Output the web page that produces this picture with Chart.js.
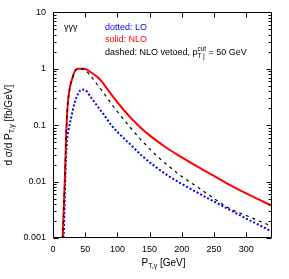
<!DOCTYPE html>
<html>
<head>
<meta charset="utf-8">
<script src="https://cdn.jsdelivr.net/npm/chart.js@4/dist/chart.umd.min.js"></script>
<style>
  body { margin: 0; background: #fff; }
  #wrap { width: 289px; height: 279px; position: relative; }
</style>
</head>
<body>
<div id="wrap"><canvas id="chart"></canvas></div>
<script>
// Datos (P_T,γ en GeV, dσ/dP_T en fb/GeV)
const loX = [16.5, 18, 20, 22, 24, 27.5, 34, 40, 45, 50, 60, 70, 80, 90, 100, 120, 140, 160, 180, 200, 225, 250, 275, 300, 320, 340];
const loY = [0.001, 0.004, 0.025, 0.055, 0.08, 0.125, 0.26, 0.38, 0.43, 0.42, 0.30, 0.21, 0.148, 0.102, 0.076, 0.0457, 0.0275, 0.018, 0.01245, 0.0091, 0.0063, 0.00442, 0.00313, 0.00221, 0.0017, 0.00129];

const nloX = [15, 18.7, 20.2, 22.3, 31, 39, 48, 60, 73, 85, 97, 110, 120, 135, 151, 175, 200, 225, 250, 275, 300, 320, 340];
const nloY = [0.001, 0.014, 0.055, 0.19, 0.74, 1.0, 1.0, 0.85, 0.645, 0.427, 0.282, 0.186, 0.138, 0.0933, 0.0646, 0.0407, 0.0269, 0.0182, 0.0126, 0.0087, 0.00617, 0.00479, 0.00372];

const vetoX = [15, 18.7, 20.2, 22.3, 31, 39, 45, 50, 60, 70, 80, 90, 100, 120, 140, 160, 180, 200, 225, 250, 275, 300, 320, 340];
const vetoY = [0.001, 0.014, 0.055, 0.19, 0.74, 1.0, 0.99, 0.95, 0.71, 0.50, 0.355, 0.245, 0.174, 0.091, 0.050, 0.0295, 0.0186, 0.0123, 0.0079, 0.005, 0.0033, 0.00251, 0.0020, 0.00162];

const xTicks = [0, 50, 100, 150, 200, 250, 300];
const yTicks = [0.001, 0.01, 0.1, 1, 10];
const yTickLabels = ['0.001', '0.01', '0.1', '1', '10'];

const FONT = '"Liberation Sans", Arial, sans-serif';

function pts(xs, ys) {
    return xs.map((x, i) => ({ x: x, y: ys[i] }));
}

// Ancho de un texto con subíndices / superíndices
function richWidth(ctx, parts, size) {
    let w = 0;
    parts.forEach(p => {
        if (p.k === 'n') {
            ctx.font = size + 'px ' + FONT;
            w += ctx.measureText(p.t).width;
        } else if (p.k === 'sub' || p.k === 'sup') {
            ctx.font = (size * 0.7) + 'px ' + FONT;
            w += ctx.measureText(p.t).width;
        } else if (p.k === 'both') {
            ctx.font = (size * 0.7) + 'px ' + FONT;
            w += Math.max(ctx.measureText(p.sup).width, ctx.measureText(p.sub).width);
        }
    });
    return w;
}

// Dibuja texto con subíndices / superíndices
function richText(ctx, x, y, parts, size, color) {
    ctx.fillStyle = color;
    ctx.textBaseline = 'middle';
    ctx.textAlign = 'left';
    parts.forEach(p => {
        if (p.k === 'n') {
            ctx.font = size + 'px ' + FONT;
            ctx.fillText(p.t, x, y);
            x += ctx.measureText(p.t).width;
        } else if (p.k === 'sub') {
            ctx.font = (size * 0.7) + 'px ' + FONT;
            ctx.fillText(p.t, x, y + size * 0.35);
            x += ctx.measureText(p.t).width;
        } else if (p.k === 'sup') {
            ctx.font = (size * 0.7) + 'px ' + FONT;
            ctx.fillText(p.t, x, y - size * 0.4);
            x += ctx.measureText(p.t).width;
        } else if (p.k === 'both') {
            ctx.font = (size * 0.7) + 'px ' + FONT;
            ctx.fillText(p.sup, x, y - size * 0.4);
            ctx.fillText(p.sub, x, y + size * 0.35);
            x += Math.max(ctx.measureText(p.sup).width, ctx.measureText(p.sub).width);
        }
    });
}

// Marco y marcas hacia adentro (estilo gnuplot)
const framePlugin = {
    id: 'frame',
    afterDatasetsDraw(chart) {
        const ctx = chart.ctx;
        const a = chart.chartArea;
        const sx = chart.scales.x, sy = chart.scales.y;
        ctx.save();
        ctx.strokeStyle = '#000';
        ctx.lineWidth = 1;
        ctx.beginPath();
        const L = Math.round(a.left) + 0.5, R = Math.round(a.right) - 0.5;
        const T = Math.round(a.top) + 0.5, B = Math.round(a.bottom) - 0.5;
        ctx.rect(L, T, R - L, B - T);
        xTicks.forEach(v => {
            const px = Math.round(sx.getPixelForValue(v)) + 0.5;
            ctx.moveTo(px, B); ctx.lineTo(px, B - 5);
            ctx.moveTo(px, T); ctx.lineTo(px, T + 5);
        });
        for (let d = -3; d <= 1; d++) {
            for (let m = 1; m <= 9; m++) {
                const v = m * Math.pow(10, d);
                if (v > 10.0001) continue;
                const py = Math.round(sy.getPixelForValue(v)) + 0.5;
                const len = m === 1 ? 5 : 3;
                ctx.moveTo(L, py); ctx.lineTo(L + len, py);
                ctx.moveTo(R, py); ctx.lineTo(R - len, py);
            }
        }
        ctx.stroke();
        ctx.restore();
    },
    afterDraw(chart) {
        const ctx = chart.ctx;
        const a = chart.chartArea;
        ctx.save();
        // Leyenda escrita dentro del gráfico
        richText(ctx, 64, 28, [{ k: 'n', t: 'γγγ' }], 9, '#000');
        richText(ctx, 105, 28, [{ k: 'n', t: 'dotted: LO' }], 9, '#0000ff');
        richText(ctx, 105, 40, [{ k: 'n', t: 'solid: NLO' }], 9, '#ff0000');
        richText(ctx, 105, 53, [
            { k: 'n', t: 'dashed: NLO vetoed, p' },
            { k: 'both', sup: 'cut', sub: 'T j' },
            { k: 'n', t: ' = 50 GeV' }
        ], 9, '#000');

        // Título del eje x
        const xParts = [{ k: 'n', t: 'P' }, { k: 'sub', t: 'T,γ' }, { k: 'n', t: ' [GeV]' }];
        const xw = richWidth(ctx, xParts, 10);
        richText(ctx, (a.left + a.right) / 2 - xw / 2 + 1, 263, xParts, 10, '#000');

        // Título del eje y (rotado)
        const yParts = [{ k: 'n', t: 'd σ/d P' }, { k: 'sub', t: 'T,γ' }, { k: 'n', t: ' [fb/GeV]' }];
        const yw = richWidth(ctx, yParts, 10);
        ctx.translate(9, (a.top + a.bottom) / 2);
        ctx.rotate(-Math.PI / 2);
        richText(ctx, -yw / 2, 0, yParts, 10, '#000');
        ctx.restore();
    }
};

document.addEventListener('DOMContentLoaded', function () {
    const ctx = document.getElementById('chart').getContext('2d');
    new Chart(ctx, {
        type: 'line',
        data: {
            datasets: [
                {
                    label: 'NLO vetoed',
                    data: pts(vetoX, vetoY),
                    borderColor: '#000',
                    borderWidth: 1.2,
                    borderDash: [3, 4],
                    pointRadius: 0,
                    cubicInterpolationMode: 'monotone'
                },
                {
                    label: 'NLO',
                    data: pts(nloX, nloY),
                    borderColor: '#ff0000',
                    borderWidth: 2,
                    pointRadius: 0,
                    cubicInterpolationMode: 'monotone'
                },
                {
                    label: 'LO',
                    data: pts(loX, loY),
                    borderColor: '#0000ff',
                    borderWidth: 2,
                    borderDash: [2, 2],
                    pointRadius: 0,
                    cubicInterpolationMode: 'monotone'
                }
            ]
        },
        options: {
            responsive: true,
            maintainAspectRatio: false,
            animation: false,
            layout: { padding: { top: 11, right: 17, left: 0, bottom: 0 } },
            plugins: {
                legend: { display: false },
                tooltip: { enabled: false }
            },
            scales: {
                x: {
                    type: 'linear',
                    min: 0,
                    max: 340,
                    grid: { display: false, drawTicks: false },
                    border: { display: false },
                    afterBuildTicks: s => { s.ticks = xTicks.map(v => ({ value: v })); },
                    afterFit: s => { s.height = 41; },
                    ticks: {
                        padding: 6,
                        color: '#000',
                        font: { family: FONT, size: 9 },
                        maxRotation: 0
                    }
                },
                y: {
                    type: 'logarithmic',
                    min: 0.001,
                    max: 10,
                    grid: { display: false, drawTicks: false },
                    border: { display: false },
                    afterBuildTicks: s => { s.ticks = yTicks.map(v => ({ value: v })); },
                    afterFit: s => { s.width = 53; },
                    ticks: {
                        padding: 7,
                        color: '#000',
                        font: { family: FONT, size: 9 },
                        callback: (v, i) => yTickLabels[i]
                    }
                }
            }
        },
        plugins: [framePlugin]
    });
});
</script>
</body>
</html>
